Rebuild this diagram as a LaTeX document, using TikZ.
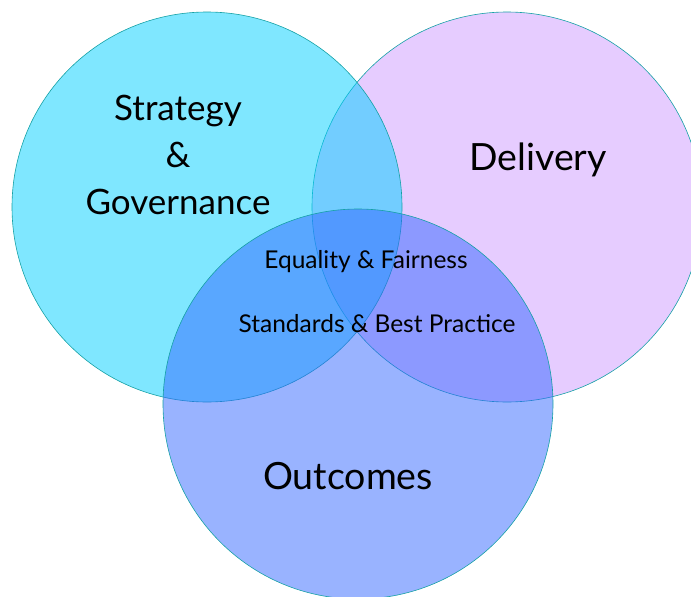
\documentclass[tikz,border=0pt]{standalone}
\usepackage{fontspec}
\setmainfont{Lato}
\usetikzlibrary{positioning}
\definecolor{ringline}{RGB}{20,160,165}
\definecolor{stratfill}{RGB}{0,208,255}
\definecolor{delivfill}{RGB}{205,153,255}
\definecolor{outcfill}{RGB}{51,103,255}
\tikzset{
    x=1pt, y=-1pt, % pixel grid of the picture
    ring/.style={circle, draw=ringline, line width=0.6pt, fill opacity=0.5, minimum size=390pt, inner sep=0pt},
    biglabel/.style={font=\fontsize{37.5}{44}\selectfont, text=black},
    midlabel/.style={font=\fontsize{35}{47}\selectfont, align=center, text=black},
    smalllabel/.style={font=\fontsize{24.5}{29}\selectfont, text=black},
}
\begin{document}
\begin{tikzpicture}
  \useasboundingbox (0,0) rectangle (691,597);
  \clip (0,0) rectangle (691,597);
  % order matters for the mixed colours
  \node[ring, fill=delivfill] (deliv) at (507,207) {};
  \node[ring, fill=stratfill] (strat) at (207,207) {};
  \node[ring, fill=outcfill]  (outc)  at (358,404) {};

  \node[midlabel] (strattext) at (178,155) {Strategy\\\&\\Governance};
  \node[biglabel] (delivtext) at (538,160) {Delivery};
  \node[biglabel] (outctext)  at (348,476) {Outcomes};
  \node[smalllabel] (equal) at (366,262) {Equality \& Fairness};
  \node[smalllabel] (stand) at (377,324) {Standards \& Best Practice};
\end{tikzpicture}
\end{document}
